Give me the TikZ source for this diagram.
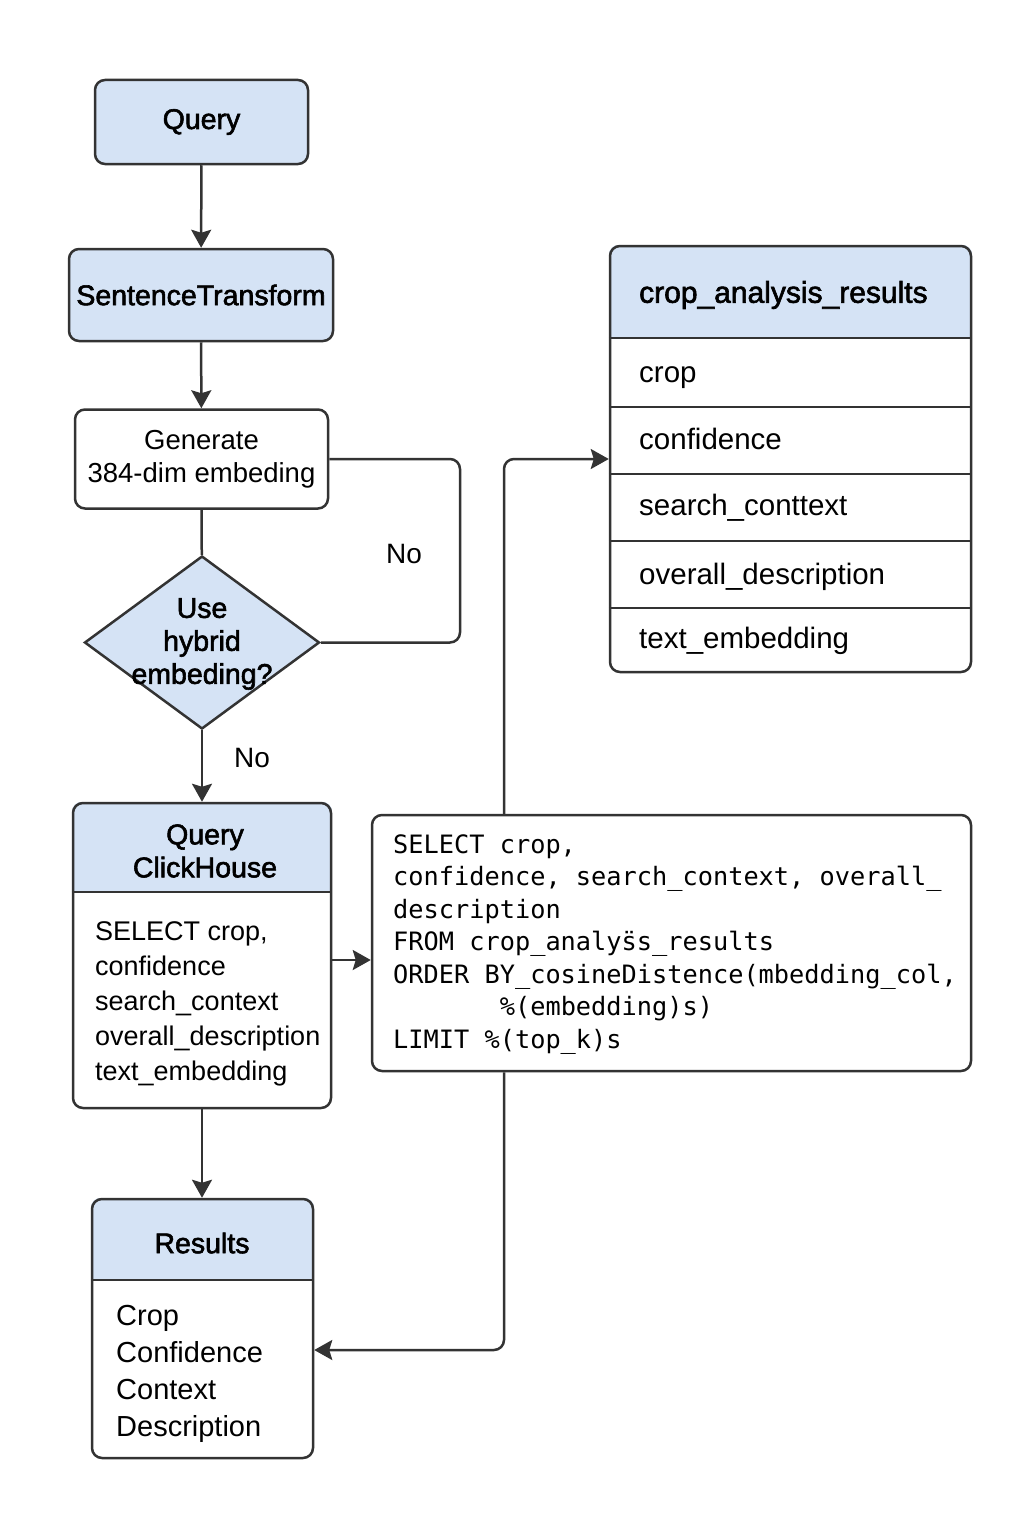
\documentclass[tikz,border=0pt]{standalone}
\usepackage{fontspec}
\setmainfont{Liberation Sans}
\setmonofont{DejaVu Sans Mono}
\newfontfamily\medfont{Liberation Sans}[FakeBold=2]
\usetikzlibrary{arrows.meta,shapes.geometric,backgrounds}

\definecolor{hdrblue}{HTML}{D5E3F5}
\definecolor{linegray}{HTML}{333333}

% blue header band of a box, cut at the given y
\newcommand{\headband}[2]{%
  \begin{scope}[on background layer]
    \begin{scope}
      \clip[rounded corners=10pt] (#1.north west) rectangle (#1.south east);
      \fill[hdrblue] (#1.north west) rectangle (#1.east |- 0,#2);
    \end{scope}
  \end{scope}
  \draw[linegray, line width=2.5pt] (#1.west |- 0,#2) -- (#1.east |- 0,#2);
}

\begin{document}
\begin{tikzpicture}[x=1pt, y=-1pt,
  box/.style={draw=linegray, line width=2.5pt, rounded corners=10pt, inner sep=0pt},
  arr/.style={draw=linegray, line width=2.5pt, -{Stealth[length=18pt,width=20pt,inset=3pt]}},
  conn/.style={draw=linegray, line width=2.5pt, rounded corners=10pt},
  txt/.style={inner sep=0pt, font=\fontsize{28}{33}\selectfont},
  head/.style={inner sep=0pt, font=\medfont\fontsize{28.5}{33}\selectfont},
  sqltxt/.style={inner sep=0pt, align=left, font=\ttfamily\fontsize{25.3}{32.5}\selectfont}]

\path[use as bounding box] (0,0) rectangle (1024,1536);

% Draw the main column
\node[box, head, fill=hdrblue, minimum width=213pt, minimum height=84pt] (query) at (201.5,122) {Query};
\node[box, head, fill=hdrblue, minimum width=264pt, minimum height=92pt] (sent) at (201,295) {SentenceTransform};
\node[box, txt, align=center, font=\fontsize{27.5}{33}\selectfont, minimum width=253pt, minimum height=99pt] (gen) at (201.5,459) {Generate\\384-dim embeding};

% Draw the decision
\node[diamond, draw=linegray, line width=2.5pt, fill=hdrblue, minimum width=235pt, minimum height=173pt, inner sep=0pt] (hybrid) at (202,642.5) {};
\node[head, align=center] (hybridtxt) at (202,644) {Use\\hybrid\\embeding?};

% Add the No labels
\node[txt] (no1) at (404,554) {No};
\node[txt] (no2) at (252,758) {No};

% Draw the ClickHouse query box
\node[box, minimum width=258pt, minimum height=305pt] (click) at (202,955.5) {};
\headband{click}{892}
\node[head, align=center] (clicktitle) at (205,851) {Query\\ClickHouse};
\node[txt, anchor=west, align=left, font=\fontsize{27}{35}\selectfont] (clickbody) at (95,1004) {SELECT crop,\\confidence\\search\_context\\overall\_description\\text\_embedding};

% Draw the SQL box
\node[box, minimum width=599pt, minimum height=256pt] (sql) at (671.5,943) {};
\node[sqltxt, anchor=west] (sqlbody) at (393,944.5) {SELECT crop,\\confidence, search\_context, overall\_\\description\\FROM crop\_analy{\"s}s\_results\\ORDER BY\_cosineDistence(mbedding\_col,\\\hphantom{0000000}\%(embedding)s)\\LIMIT \%(top\_k)s};

% Draw the table
\node[box, minimum width=361pt, minimum height=426pt] (tbl) at (790.5,459) {};
\headband{tbl}{338}
\node[head, anchor=west, font=\medfont\fontsize{30}{36}\selectfont] (tbltitle) at (639,295) {crop\_analysis\_results};
\foreach \y in {407,474,541,608}
  \draw[linegray, line width=2.5pt] (tbl.west |- 0,\y) -- (tbl.east |- 0,\y);
\foreach \y/\field [count=\i] in {375/crop, 442/confidence, 508/search\_conttext, 577/overall\_description, 641/text\_embedding}
  \node[txt, anchor=west, font=\fontsize{29.5}{35}\selectfont, text height=21pt, text depth=6pt] (field\i) at (639,\y) {\field};

% Draw the results box
\node[box, minimum width=221pt, minimum height=259pt] (res) at (202.5,1328.5) {};
\headband{res}{1280}
\node[head] (restitle) at (202,1243) {Results};
\node[txt, anchor=west, align=left, font=\fontsize{29}{37}\selectfont] (resbody) at (116,1373.5) {Crop\\Confidence\\Context\\Description};

% Draw the connectors
\coordinate (loop) at (460,550);
\coordinate (toSql) at (0,960);
\coordinate (trunk) at (504,0);
\coordinate (back) at (0,1350);
\draw[arr] (query) -- (sent);
\draw[arr] (sent) -- (gen);
\draw[conn] (gen) -- (hybrid);
\draw[conn] (hybrid.east) -- (hybrid.east -| loop) -- (gen.east -| loop) -- (gen.east);
\draw[arr] (hybrid) -- (click);
\draw[arr] (click.east |- toSql) -- (sql.west |- toSql);
\draw[arr, rounded corners=10pt] (sql.north -| trunk) |- (tbl.west);
\draw[arr, rounded corners=10pt] (sql.south -| trunk) |- (res.east |- back);
\draw[arr] (click.south) -- (click.south |- res.north);

\end{tikzpicture}
\end{document}
